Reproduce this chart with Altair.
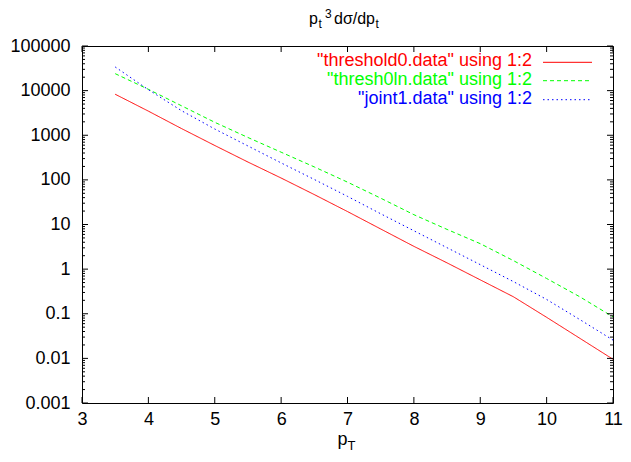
import altair as alt
import pandas as pd

# ---- data ----
pt = [3.5, 4, 4.5, 5, 5.5, 6, 6.5, 7, 7.5, 8, 8.5, 9, 9.5, 10, 10.5, 11]
threshold0 = [8300, 3470, 1410, 590, 251, 110, 46.8, 19.5, 7.94, 3.24, 1.38, 0.575, 0.240, 0.0832, 0.0282, 0.00955]
thresh0ln = [24000, 10700, 4570, 1950, 891, 417, 195, 89, 38.9, 16.6, 7.76, 3.72, 1.55, 0.617, 0.240, 0.0851]
joint1 = [33900, 10500, 3550, 1380, 575, 240, 102, 42.7, 17.4, 7.24, 3.02, 1.26, 0.525, 0.209, 0.0741, 0.0257]

series_labels = ['"threshold0.data" using 1:2', '"thresh0ln.data" using 1:2', '"joint1.data" using 1:2']
series_colors = ['#ff0000', '#00ff00', '#0000ff']
series_dashes = [[1, 0], [4, 3], [1.5, 3]]

x_ticks = [3, 4, 5, 6, 7, 8, 9, 10, 11]
y_major = [0.001, 0.01, 0.1, 1, 10, 100, 1000, 10000, 100000]
y_minor = [m * d for d in [0.001, 0.01, 0.1, 1, 10, 100, 1000, 10000] for m in range(2, 10)]

FONT = 'Liberation Sans'
W, H = 531, 357

xs = alt.Scale(domain=[3, 11], nice=False, zero=False)
ys = alt.Scale(type='log', domain=[0.001, 100000], nice=False)

x_axis = alt.Axis(values=x_ticks, title=None, grid=False, ticks=False, tickSize=0, domain=False,
                  labelFont=FONT, labelFontSize=18, labelColor='black', labelPadding=7,
                  labelFlush=False, labelOverlap=False, format='d')
y_axis = alt.Axis(values=y_major, title=None, grid=False, ticks=False, tickSize=0, domain=False,
                  labelFont=FONT, labelFontSize=18, labelColor='black', labelPadding=12,
                  labelOverlap=False, labelFlush=False,
                  labelExpr="datum.value >= 1 ? format(datum.value, 'd') : format(datum.value, '.3~f')")

X = lambda f: alt.X(f, scale=xs, axis=x_axis)
Y = lambda f: alt.Y(f, scale=ys, axis=y_axis)

layers = []
for vals, col, dash in zip([threshold0, thresh0ln, joint1], series_colors, series_dashes):
    df = pd.DataFrame({'pt': pt, 'v': vals})
    layers.append(
        alt.Chart(df).mark_line(color=col, strokeWidth=1, strokeDash=dash).encode(
            x=X('pt:Q'), y=Y('v:Q'))
    )

# inward ticks (gnuplot style, mirrored)
xt = pd.DataFrame({'v': x_ticks})
ymaj = pd.DataFrame({'v': y_major})
ymin = pd.DataFrame({'v': y_minor})
tick_style = dict(color='black', strokeWidth=1)
layers += [
    alt.Chart(xt).mark_rule(**tick_style).encode(x=X('v:Q'), y=alt.value(H), y2=alt.value(H - 6)),
    alt.Chart(xt).mark_rule(**tick_style).encode(x=X('v:Q'), y=alt.value(0), y2=alt.value(6)),
    alt.Chart(ymaj).mark_rule(**tick_style).encode(y=Y('v:Q'), x=alt.value(0), x2=alt.value(6)),
    alt.Chart(ymaj).mark_rule(**tick_style).encode(y=Y('v:Q'), x=alt.value(W), x2=alt.value(W - 6)),
    alt.Chart(ymin).mark_rule(**tick_style).encode(y=Y('v:Q'), x=alt.value(0), x2=alt.value(3)),
    alt.Chart(ymin).mark_rule(**tick_style).encode(y=Y('v:Q'), x=alt.value(W), x2=alt.value(W - 3)),
]

# legend (text left of line sample, gnuplot style)
leg_text_y = [20, 39, 58]
leg_line_y = [16.3, 34.7, 53.7]
for lab, col, dash, ty, ly in zip(series_labels, series_colors, series_dashes, leg_text_y, leg_line_y):
    layers.append(
        alt.Chart(pd.DataFrame({'t': [lab]})).mark_text(
            align='right', baseline='alphabetic', font=FONT, fontSize=18, color=col
        ).encode(text='t:N', x=alt.value(450), y=alt.value(ty))
    )
    layers.append(
        alt.Chart(pd.DataFrame({'t': [lab]})).mark_rule(color=col, strokeWidth=1, strokeDash=dash).encode(
            x=alt.value(461), x2=alt.value(510), y=alt.value(ly)
        )
    )

# title  p_t^3 dσ/dp_t  and axis title p_T
text_parts = [
    ('p', 16, 227, -22),
    ('t', 12, 236.5, -18),
    ('3', 12, 243, -28),
    ('dσ/dp', 16, 252, -22),
    ('t', 12, 293.5, -18),
    ('p', 18, 255.5, 399),
    ('T', 13, 265.5, 404),
]
for txt, fs, tx, ty in text_parts:
    layers.append(
        alt.Chart(pd.DataFrame({'t': [txt]})).mark_text(
            align='left', baseline='alphabetic', font=FONT, fontSize=fs, color='black'
        ).encode(text='t:N', x=alt.value(tx), y=alt.value(ty))
    )

chart = alt.layer(*layers).properties(
    width=W, height=H,
    padding={'left': 74, 'top': 38, 'right': 10, 'bottom': 51},
    autosize=alt.AutoSizeParams(type='none'),
).configure_view(stroke='black', strokeWidth=1)

chart.save('out.html', embed_options={'renderer': 'svg', 'actions': False})
